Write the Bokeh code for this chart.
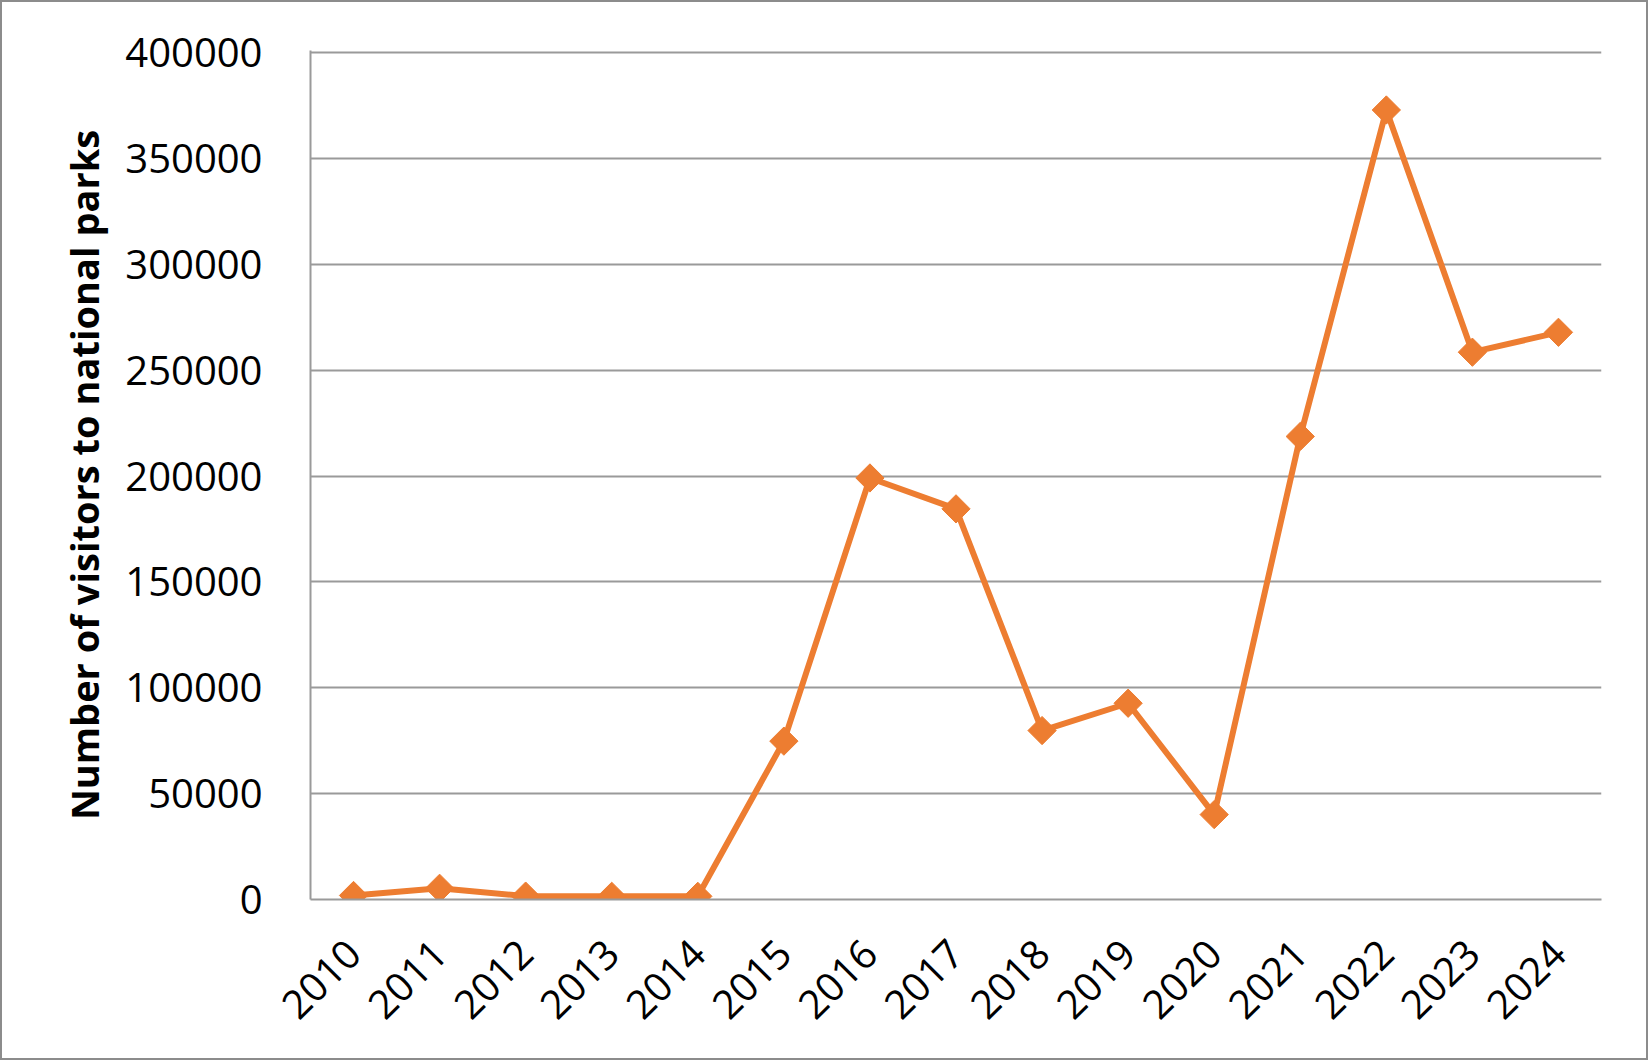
import math
from bokeh.plotting import figure
from bokeh.models import FactorRange, Range1d, FixedTicker, ColumnDataSource, BasicTickFormatter
from bokeh.embed import file_html
from bokeh.resources import INLINE

years = ["2010", "2011", "2012", "2013", "2014", "2015", "2016", "2017",
         "2018", "2019", "2020", "2021", "2022", "2023", "2024"]
visitors = [1900, 5300, 1600, 1500, 1500, 74800, 199100, 184500,
            79800, 92700, 40100, 218700, 372900, 258500, 267900]
y_ticks = [0, 50000, 100000, 150000, 200000, 250000, 300000, 350000, 400000]
y_title = "Number of visitors to national parks"

FONT = "Open Sans"
ORANGE = "#ED7D31"
GRID = "#9a9a9a"

src = ColumnDataSource(dict(year=years, v=visitors))

p = figure(width=1648, height=1060, output_backend="svg", toolbar_location=None,
           x_range=FactorRange(*years, range_padding=0),
           y_range=Range1d(0, 401000),
           min_border_left=308, min_border_right=49,
           min_border_top=48, min_border_bottom=163)
p.styles = {"border": "2px solid #8c8c8c"}
p.outline_line_color = None
p.background_fill_color = "white"
p.border_fill_color = "white"

p.line("year", "v", source=src, line_color=ORANGE, line_width=6, line_join="round")
p.scatter("year", "v", source=src, marker="square", angle=math.pi / 4, size=20,
          fill_color=ORANGE, line_color=ORANGE)

# grids
p.xgrid.grid_line_color = None
p.ygrid.grid_line_color = GRID
p.ygrid.grid_line_width = 2
p.ygrid.ticker = FixedTicker(ticks=y_ticks)

# y axis
ya = p.yaxis[0]
ya.ticker = FixedTicker(ticks=y_ticks)
ya.formatter = BasicTickFormatter(use_scientific=False)
ya.axis_line_color = GRID
ya.axis_line_width = 2
ya.major_tick_line_color = None
ya.minor_tick_line_color = None
ya.major_label_text_font = FONT
ya.major_label_text_font_size = "40px"
ya.major_label_text_color = "black"
ya.major_label_standoff = 42
ya.axis_label = y_title
ya.axis_label_text_font = FONT
ya.axis_label_text_font_style = "bold"
ya.axis_label_text_font_size = "38px"
ya.axis_label_text_color = "black"
ya.axis_label_standoff = 12

# x axis
xa = p.xaxis[0]
xa.axis_line_color = GRID
xa.axis_line_width = 2
xa.major_tick_line_color = None
xa.minor_tick_line_color = None
xa.major_label_text_font = FONT
xa.major_label_text_font_size = "40px"
xa.major_label_text_color = "black"
xa.major_label_orientation = math.pi / 4
xa.major_label_standoff = 41

open("out.html", "w").write(file_html(p, INLINE))
